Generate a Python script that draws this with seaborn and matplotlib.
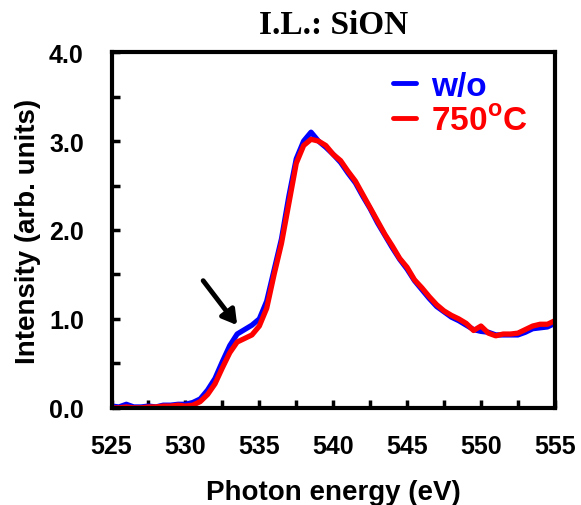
import pandas as pd
import matplotlib
matplotlib.use("Agg")
import matplotlib.pyplot as plt
import seaborn as sns
from matplotlib.ticker import MultipleLocator

# datos (O K-edge, I.L.: SiON)
energia = [525.0 + 0.5 * i for i in range(61)]
sin_recocido = [0.02, 0.01, 0.04, 0.01, 0.01, 0.02, 0.01, 0.03, 0.03, 0.04,
                0.04, 0.06, 0.10, 0.20, 0.33, 0.52, 0.70, 0.83, 0.88, 0.93,
                1.00, 1.20, 1.55, 1.90, 2.38, 2.80, 3.00, 3.10, 3.00, 2.93,
                2.85, 2.76, 2.64, 2.53, 2.38, 2.24, 2.08, 1.94, 1.80, 1.67,
                1.56, 1.43, 1.33, 1.23, 1.14, 1.08, 1.02, 0.98, 0.93, 0.88,
                0.86, 0.85, 0.82, 0.82, 0.82, 0.82, 0.85, 0.89, 0.90, 0.91,
                0.95]
recocido_750 = [0.00, 0.00, 0.01, 0.00, 0.00, 0.01, 0.01, 0.02, 0.02, 0.03,
                0.02, 0.03, 0.07, 0.15, 0.27, 0.45, 0.62, 0.74, 0.78, 0.82,
                0.92, 1.12, 1.50, 1.85, 2.30, 2.75, 2.95, 3.02, 3.00, 2.95,
                2.85, 2.78, 2.66, 2.55, 2.40, 2.25, 2.10, 1.95, 1.82, 1.68,
                1.58, 1.44, 1.35, 1.25, 1.16, 1.09, 1.04, 1.00, 0.95, 0.87,
                0.92, 0.84, 0.81, 0.83, 0.83, 0.84, 0.88, 0.92, 0.94, 0.94,
                0.98]
etiquetas = ["w/o", "750$^{\\mathbf{o}}$C"]
colores = ["#0000ff", "#ff0000"]

df = pd.DataFrame({
    "E": energia * 2,
    "I": sin_recocido + recocido_750,
    "muestra": [etiquetas[0]] * len(energia) + [etiquetas[1]] * len(energia),
})

sns.set_style("white")
plt.rcParams["font.family"] = ["Liberation Sans", "DejaVu Sans"]
plt.rcParams["font.weight"] = "bold"
plt.rcParams["text.color"] = "black"
plt.rcParams["axes.labelcolor"] = "black"
plt.rcParams["xtick.color"] = "black"
plt.rcParams["ytick.color"] = "black"
plt.rcParams["mathtext.fontset"] = "custom"
plt.rcParams["mathtext.bf"] = "Liberation Sans:bold"
plt.rcParams["mathtext.rm"] = "Liberation Sans:bold"

fig = plt.figure(figsize=(5.81, 5.06), dpi=100)
ax = fig.add_axes([0.192, 0.192, 0.763, 0.703])

sns.lineplot(data=df, x="E", y="I", hue="muestra", palette=colores,
             linewidth=3.8, ax=ax, legend=False)

ax.set_xlim(525, 555)
ax.set_ylim(0, 4)
ax.xaxis.set_major_locator(MultipleLocator(5))
ax.xaxis.set_minor_locator(MultipleLocator(2.5))
ax.yaxis.set_major_locator(MultipleLocator(1))
ax.yaxis.set_minor_locator(MultipleLocator(0.5))
ax.set_yticks([0, 1, 2, 3, 4])
ax.set_yticklabels(["0.0", "1.0", "2.0", "3.0", "4.0"])
ax.tick_params(which="both", direction="in", length=6, width=2.5,
               bottom=True, left=True, top=False, right=False, color="black")
ax.tick_params(axis="x", which="major", labelsize=18, pad=19)
ax.tick_params(axis="y", which="major", labelsize=18, pad=20)
for lab in ax.get_xticklabels() + ax.get_yticklabels():
    lab.set_fontweight("bold")
for s in ax.spines.values():
    s.set_linewidth(3)
    s.set_color("black")

ax.set_xlabel("Photon energy (eV)", fontsize=20, fontweight="bold", labelpad=15)
ax.set_ylabel("Intensity (arb. units)", fontsize=20, fontweight="bold", labelpad=6)
ax.set_title("I.L.: SiON", fontsize=24, fontweight="bold",
             fontfamily="Liberation Serif", pad=14)

# flecha del hombro
ax.annotate("", xy=(533.5, 0.93), xytext=(531.2, 1.43),
            arrowprops=dict(arrowstyle="-|>,head_length=0.85,head_width=0.5",
                            color="black", lw=3.5, shrinkA=0, shrinkB=0))

handles = [plt.Line2D([], [], color=c, lw=3.5) for c in colores]
leg = ax.legend(handles, etiquetas, loc="upper left", bbox_to_anchor=(0.635, 0.948),
                frameon=False, fontsize=24, handlelength=0.7, handletextpad=0.45,
                labelspacing=0.12, borderpad=0, borderaxespad=0)
for t, c in zip(leg.get_texts(), colores):
    t.set_color(c)
    t.set_fontweight("bold")

fig.savefig("out.png", dpi=100)
